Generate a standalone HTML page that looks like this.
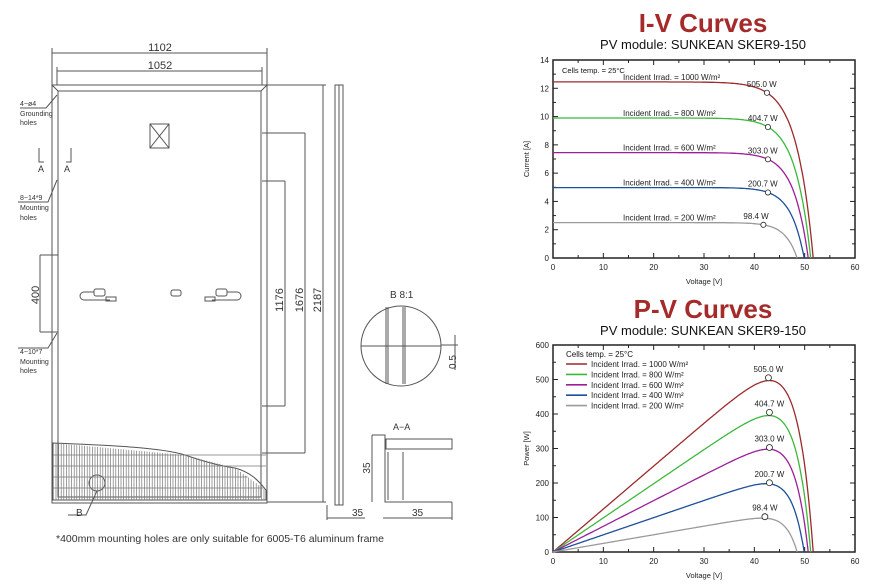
<!DOCTYPE html>
<html><head><meta charset="utf-8"><style>
html,body{margin:0;padding:0;background:#fff}
svg{display:block}
text{font-family:"Liberation Sans",sans-serif}
</style></head><body>
<svg id="s" width="890" height="588" viewBox="0 0 890 588" xmlns="http://www.w3.org/2000/svg">
<g stroke="#555" fill="none" stroke-width="1">
 <rect x="52" y="85" width="215" height="418"/>
 <rect x="58" y="91" width="203" height="406"/>
 <line x1="52" y1="85" x2="58" y2="91"/><line x1="267" y1="85" x2="261" y2="91"/>
 <rect x="335" y="85" width="8" height="420"/>
 <line x1="339" y1="85" x2="339" y2="505"/>
 <line x1="52" y1="53" x2="267" y2="53"/><line x1="52" y1="48" x2="52" y2="85"/><line x1="267" y1="48" x2="267" y2="85"/>
 <line x1="57" y1="71" x2="262" y2="71"/><line x1="57" y1="67" x2="57" y2="85"/><line x1="262" y1="67" x2="262" y2="85"/>
 <line x1="267" y1="85" x2="326" y2="85"/><line x1="323" y1="85" x2="323" y2="502"/><line x1="267" y1="502" x2="326" y2="502"/>
 <line x1="262" y1="133" x2="305" y2="133"/><line x1="305" y1="133" x2="305" y2="453"/><line x1="262" y1="453" x2="305" y2="453"/>
 <line x1="262" y1="181" x2="285" y2="181"/><line x1="285" y1="181" x2="285" y2="406"/><line x1="262" y1="406" x2="285" y2="406"/>
 <line x1="40" y1="255" x2="58" y2="255"/><line x1="40" y1="255" x2="40" y2="332"/><line x1="40" y1="332" x2="58" y2="332"/>
 <polyline points="39,148 39,162 44,162"/><polyline points="71,148 71,162 66,162"/>
 <polyline points="20,108 46,108 57,95"/><polyline points="18,202 48,202 57,180"/><polyline points="18,348 48,348 57,333"/>
 <rect x="150" y="124" width="19" height="24"/><line x1="150" y1="124" x2="169" y2="148"/><line x1="169" y1="124" x2="150" y2="148"/>
 <rect x="94" y="289" width="11" height="7" rx="2"/><path d="M94 292 H84 a4 4 0 0 0 0 8 H110"/><rect x="106" y="297" width="10" height="4"/>
 <rect x="171" y="290" width="10" height="6" rx="2"/>
 <rect x="216" y="289" width="11" height="7" rx="2"/><path d="M227 292 H237 a4 4 0 0 1 0 8 H212"/><rect x="205" y="297" width="10" height="4"/>
 <path d="M53 443 C100 445 160 447 185 455 C205 462 220 466 235 468 C250 472 258 480 266 490 L266 500 L53 500 Z"/>
 <circle cx="97" cy="483" r="8"/><polyline points="97,491 86,515 68,515"/>
 <circle cx="401" cy="346" r="40"/>
 <line x1="361" y1="346" x2="441" y2="346"/>
 <line x1="386" y1="307" x2="386" y2="384"/><line x1="388" y1="307" x2="388" y2="384"/>
 <line x1="403" y1="307" x2="403" y2="384"/><line x1="405" y1="307" x2="405" y2="384"/>
 <line x1="441" y1="345" x2="458" y2="345"/><line x1="455" y1="335" x2="455" y2="370"/>
 <polyline points="372,435 385,435 385,502 452,502"/>
 <rect x="386" y="439" width="66" height="10"/>
 <line x1="388" y1="452" x2="388" y2="500"/><line x1="403" y1="452" x2="403" y2="500"/>
 <line x1="372" y1="435" x2="372" y2="502"/>
 <line x1="383" y1="518" x2="452" y2="518"/><line x1="452" y1="502" x2="452" y2="520"/>
 <line x1="327" y1="518" x2="365" y2="518"/><line x1="327" y1="505" x2="327" y2="520"/>
</g>
<g id="hatch" stroke="#777" stroke-width="0.7"></g>
<g font-size="11" fill="#333">
 <text x="160" y="51" text-anchor="middle">1102</text>
 <text x="160" y="69" text-anchor="middle">1052</text>
 <text x="38" y="172" font-size="9">A</text><text x="64" y="172" font-size="9">A</text>
 <text x="20" y="106" font-size="7">4−ø4</text><text x="20" y="116" font-size="7">Grounding</text><text x="20" y="125" font-size="7">holes</text>
 <text x="20" y="200" font-size="7">8−14*9</text><text x="20" y="210" font-size="7">Mounting</text><text x="20" y="220" font-size="7">holes</text>
 <text x="20" y="354" font-size="7">4−10*7</text><text x="20" y="364" font-size="7">Mounting</text><text x="20" y="373" font-size="7">holes</text>
 <text transform="translate(39,295) rotate(-90)" text-anchor="middle">400</text>
 <text transform="translate(283,300) rotate(-90)" text-anchor="middle">1176</text>
 <text transform="translate(303,300) rotate(-90)" text-anchor="middle">1676</text>
 <text transform="translate(321,300) rotate(-90)" text-anchor="middle">2187</text>
 <text x="76" y="516" font-size="10">B</text>
 <text x="390" y="298" font-size="10">B 8:1</text>
 <text transform="translate(456,362) rotate(-90)" text-anchor="middle" font-size="10">0.5</text>
 <text x="393" y="430" font-size="9">A−A</text>
 <text transform="translate(370,468) rotate(-90)" text-anchor="middle" font-size="10">35</text>
 <text x="352" y="516" font-size="10">35</text>
 <text x="412" y="516" font-size="10">35</text>
 <text x="56" y="542" font-size="10.5">*400mm mounting holes are only suitable for 6005-T6 aluminum frame</text>
</g>
<text x="703" y="32" text-anchor="middle" font-size="26" font-weight="bold" fill="#a52a2a">I-V Curves</text>
<text x="703" y="49" text-anchor="middle" font-size="13" fill="#111">PV module: SUNKEAN SKER9-150</text>
<text x="703" y="318" text-anchor="middle" font-size="26" font-weight="bold" fill="#a52a2a">P-V Curves</text>
<text x="703" y="335" text-anchor="middle" font-size="13" fill="#111">PV module: SUNKEAN SKER9-150</text>
<g id="charts"></g>
</svg>
<script>
var NS="http://www.w3.org/2000/svg";
function el(t,a,p,txt){var e=document.createElementNS(NS,t);for(var k in a)e.setAttribute(k,a[k]);if(txt!=null)e.textContent=txt;(p||document.getElementById('charts')).appendChild(e);return e;}
var h=document.getElementById('hatch');
function topY(x){ if(x<185) return 443+(x-53)/132*12; if(x<235) return 455+(x-185)/50*13; return 468+(x-235)/31*22;}
for(var x=56;x<266;x+=2.6){el('line',{x1:x,y1:topY(x),x2:x,y2:500},h);}
[455,466,477,488].forEach(function(y){el('line',{x1:53,y1:y,x2:Math.min(266,y>=468?235+(y-468)/22*31:266),y2:y},h);});
var X0=553,X1=855,ser=[
 {c:"#9b2b2b",isc:12.45,voc:51.7,a:3.3,mv:42.5,w:"505.0 W",lab:"1000"},
 {c:"#3cb83c",isc:9.9,voc:51.2,a:3.1,mv:42.7,w:"404.7 W",lab:"800"},
 {c:"#9b1e9b",isc:7.45,voc:50.7,a:2.9,mv:42.7,w:"303.0  W",lab:"600"},
 {c:"#1e4f9b",isc:4.98,voc:49.9,a:2.7,mv:42.7,w:"200.7 W",lab:"400"},
 {c:"#9a9a9a",isc:2.5,voc:48.5,a:2.4,mv:41.8,w:"98.4 W",lab:"200"}];
function I(s,v){return Math.max(0,s.isc*(1-Math.exp((v-s.voc)/s.a)));}
function chart(top,bot,ymax,ystep,yminor,ylabel,fn){
 var sx=function(v){return X0+(X1-X0)*v/60},sy=function(y){return bot-(bot-top)*y/ymax};
 el('rect',{x:X0,y:top,width:X1-X0,height:bot-top,fill:"none",stroke:"#222","stroke-width":1.5});
 for(var v=0;v<=60;v+=5){var L=v%10?3:5;el('line',{x1:sx(v),y1:bot,x2:sx(v),y2:bot-L,stroke:"#222"});el('line',{x1:sx(v),y1:top,x2:sx(v),y2:top+L,stroke:"#222"});
  if(v%10==0)el('text',{x:sx(v),y:bot+12,"text-anchor":"middle","font-size":8,fill:"#222"},null,v);}
 for(var y=0;y<=ymax+1e-9;y+=yminor){var maj=Math.abs(y/ystep-Math.round(y/ystep))<1e-6,L=maj?5:3;
  el('line',{x1:X0,y1:sy(y),x2:X0+L,y2:sy(y),stroke:"#222"});el('line',{x1:X1,y1:sy(y),x2:X1-L,y2:sy(y),stroke:"#222"});
  if(maj)el('text',{x:X0-4,y:sy(y)+3,"text-anchor":"end","font-size":8,fill:"#222"},null,Math.round(y));}
 el('text',{x:(X0+X1)/2,y:bot+26,"text-anchor":"middle","font-size":7.5,fill:"#222"},null,"Voltage [V]");
 el('text',{transform:"translate(529,"+((top+bot)/2)+") rotate(-90)","text-anchor":"middle","font-size":7.5,fill:"#222"},null,ylabel);
 ser.forEach(function(s){var d="";for(var v=0;v<=s.voc+0.01;v+=0.2){var vv=Math.min(v,s.voc);d+=(d?"L":"M")+sx(vv).toFixed(1)+" "+sy(fn(s,vv)).toFixed(1);}
  d+="L"+sx(s.voc).toFixed(1)+" "+sy(0).toFixed(1);
  el('path',{d:d,fill:"none",stroke:s.c,"stroke-width":1.3});});
 return {sx:sx,sy:sy};}
var a=chart(60,258,14,2,1,"Current [A]",I);
el('text',{x:562,y:73,"font-size":7.5,fill:"#111"},null,"Cells temp. = 25°C");
ser.forEach(function(s){var y=I(s,s.mv);var px=a.sx(s.mv),py=a.sy(y);
 el('circle',{cx:px,cy:py,r:2.6,fill:"#fff",stroke:"#222","stroke-width":0.8});
 el('text',{x:px-20,y:py-6,"font-size":8,fill:"#222"},null,s.w);
 el('text',{x:623,y:a.sy(s.isc)-2,"font-size":8,fill:"#222"},null,"Incident Irrad. = "+s.lab+" W/m²");});
var b=chart(345,552,600,100,50,"Power [W]",function(s,v){return v*I(s,v);});
el('text',{x:566,y:357,"font-size":8,fill:"#111"},null,"Cells temp. = 25°C");
var pw=[505,404.7,303,200.7,98.4];
ser.forEach(function(s,i){var ly=367+i*10.4;
 el('line',{x1:566,y1:ly-3,x2:587,y2:ly-3,stroke:s.c,"stroke-width":1.6});
 el('text',{x:591,y:ly,"font-size":8,fill:"#222"},null,"Incident Irrad. = "+s.lab+" W/m²");
 var px=b.sx(s.mv+0.3),py=b.sy(pw[i]+(i==4?4:0));
 el('circle',{cx:px,cy:py,r:3,fill:"#fff",stroke:"#222","stroke-width":0.8});
 el('text',{x:px,y:py-6,"text-anchor":"middle","font-size":8,fill:"#222"},null,s.w.replace("  "," "));});
</script>
</body></html>
